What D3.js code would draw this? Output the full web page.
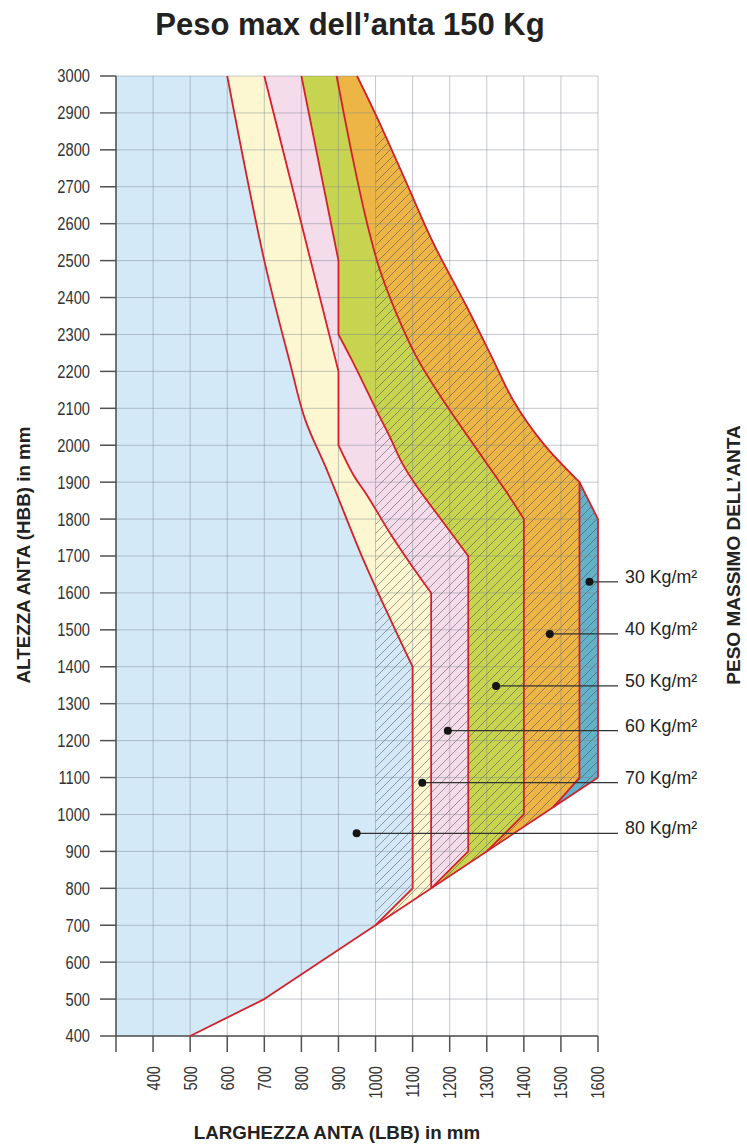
<!DOCTYPE html>
<html><head><meta charset="utf-8">
<script src="https://cdn.jsdelivr.net/npm/d3@7/dist/d3.min.js"></script>
<style>html,body{margin:0;padding:0;background:#fff;} svg{display:block;}</style>
</head><body>
<svg id="chart" width="747" height="1144"></svg>
<script>
// ---------- DATA ----------
const xTicks = [400,500,600,700,800,900,1000,1100,1200,1300,1400,1500,1600];
const xGrid = [300,400,500,600,700,800,900,1000,1100,1200,1300,1400,1500,1600];
const yTicks = [400,500,600,700,800,900,1000,1100,1200,1300,1400,1500,1600,1700,1800,1900,2000,2100,2200,2300,2400,2500,2600,2700,2800,2900,3000];

// boundary lines [width mm, height mm]; "Curve" parts are smooth, the rest straight
const lineACurve = [[600,3000],[700,2500],[770,2220],[810,2070],[870,1930],[967,1690],[1030,1550],[1100,1400]];
const lineATail  = [[1100,1400],[1100,800],[1000,700]];
const lineBHead  = [[700,3000],[900,2200],[900,2000]];
const lineBCurve = [[900,2000],[940,1920],[980,1860],[1040,1760],[1100,1670],[1150,1600]];
const lineBTail  = [[1150,1600],[1150,800]];
const lineCHead  = [[800,3000],[900,2500],[900,2300]];
const lineCCurve = [[900,2300],[936,2231],[1000,2100],[1040,2020],[1070,1955],[1110,1890],[1180,1795],[1250,1700]];
const lineCTail  = [[1250,1700],[1250,900],[1150,800]];
const lineDCurve = [[895,3000],[940,2770],[975,2610],[1010,2480],[1055,2360],[1110,2240],[1180,2125],[1290,1965],[1350,1878],[1400,1800]];
const lineDTail  = [[1400,1800],[1400,1000],[1300,900]];
const lineECurve = [[950,3000],[1003,2890],[1084,2709],[1156,2547],[1246,2375],[1313,2240],[1371,2122],[1452,2005],[1550,1900]];
const lineETail  = [[1550,1900],[1550,1100],[1480,1020]];
const lineF      = [[1550,1900],[1600,1800],[1600,1100]];
const baseLine   = [[500,400],[700,500],[1600,1100]];
const blueLeft   = [[300,400],[300,3000],[600,3000]];
const blueBottom = [[1000,700],[700,500],[500,400],[300,400]];
const tealBottom = [[1600,1100],[1480,1020],[1550,1100],[1550,1900]];
const hatchFrom = 1000;

const weightLabels = ["30 Kg/m²","40 Kg/m²","50 Kg/m²","60 Kg/m²","70 Kg/m²","80 Kg/m²"];
const dotX = [1577,1470,1325,1195,1126,949];
const dotY = [1630,1489,1348,1227,1086,949];

const titleText = "Peso max dell’anta 150 Kg";
const yTitle = "ALTEZZA ANTA (HBB) in mm";
const xTitle = "LARGHEZZA ANTA (LBB) in mm";
const rTitle = "PESO MASSIMO DELL’ANTA";

// ---------- SETUP ----------
const svg = d3.select("#chart");
const x = d3.scaleLinear().domain([300,1600]).range([116,598]);
const y = d3.scaleLinear().domain([400,3000]).range([1036,76]);
const lin = d3.line().x(d=>x(d[0])).y(d=>y(d[1]));
const cur = d3.line().x(d=>x(d[0])).y(d=>y(d[1])).curve(d3.curveCatmullRom.alpha(0.5));

const P = (pts,c)=>({pts,c});
const A = [P(lineACurve,true),P(lineATail,false)];
const B = [P(lineBHead,false),P(lineBCurve,true),P(lineBTail,false)];
const C = [P(lineCHead,false),P(lineCCurve,true),P(lineCTail,false)];
const D = [P(lineDCurve,true),P(lineDTail,false)];
const E = [P(lineECurve,true),P(lineETail,false)];
const revP = ps => ps.slice().reverse().map(p=>P(p.pts.slice().reverse(),p.c));
function build(pieces){
  return pieces.map((p,i)=>{const s=(p.c?cur:lin)(p.pts); return i===0?s:"L"+s.slice(1);}).join("");
}

// font detection for narrow font
function hasFont(name){
  const t = svg.append("text").attr("font-size",40).text("0000 mmKg");
  t.attr("font-family","monospace"); const w0 = t.node().getComputedTextLength();
  t.attr("font-family",`'${name}', monospace`); const w1 = t.node().getComputedTextLength();
  t.remove(); return Math.abs(w0-w1)>0.5;
}
const narrowOK = hasFont("Liberation Sans Narrow");
const NARROW = narrowOK ? "'Liberation Sans Narrow', 'Arial Narrow', sans-serif" : "'Liberation Sans', Arial, sans-serif";
const nScale = narrowOK ? 1 : 0.84;
const SANS = "'Liberation Sans', Arial, sans-serif";

const defs = svg.append("defs");
const pat = defs.append("pattern").attr("id","hatch").attr("patternUnits","userSpaceOnUse")
  .attr("width",9).attr("height",9);
pat.append("path").attr("d","M0,9 L9,0 M-2,2 L2,-2 M7,11 L11,7")
  .attr("stroke","#4a4a4a").attr("stroke-width",0.8).attr("stroke-opacity",0.65);
defs.append("clipPath").attr("id","hclip").append("rect")
  .attr("x",x(hatchFrom)).attr("y",y(3000)).attr("width",x(1600)-x(hatchFrom)+2).attr("height",y(400)-y(3000));

const regions = [
  {d: build([P(blueLeft,false)].concat(A,[P(blueBottom,false)]))+"Z", color:"#d3e9f7"},
  {d: build(A.concat(revP(B)))+"Z", color:"#fcf7d0"},
  {d: build(B.concat(revP(C)))+"Z", color:"#f4dcea"},
  {d: build(C.concat(revP(D)))+"Z", color:"#c7d450"},
  {d: build(D.concat(revP(E)))+"Z", color:"#edb545"},
  {d: build([P(lineF,false),P(tealBottom,false)])+"Z", color:"#62b3c9"}
];

// fills
svg.append("g").selectAll("path").data(regions).join("path")
  .attr("d",d=>d.d).attr("fill",d=>d.color).attr("stroke","none");
// hatch
svg.append("g").attr("clip-path","url(#hclip)").selectAll("path").data(regions).join("path")
  .attr("d",d=>d.d).attr("fill","url(#hatch)");

// grid
const grid = svg.append("g").attr("stroke","#7d858d").attr("stroke-opacity",0.45).attr("stroke-width",1);
grid.selectAll(".v").data(xGrid).join("line").attr("x1",d=>x(d)).attr("x2",d=>x(d)).attr("y1",y(3000)).attr("y2",y(400));
grid.selectAll(".h").data(yTicks).join("line").attr("y1",d=>y(d)).attr("y2",d=>y(d)).attr("x1",x(300)).attr("x2",x(1600));

// axes
const ax = svg.append("g").attr("stroke","#505050").attr("stroke-width",1.5);
ax.append("line").attr("x1",x(300)).attr("x2",x(300)).attr("y1",y(3000)).attr("y2",y(400));
ax.append("line").attr("x1",x(300)).attr("x2",x(1600)).attr("y1",y(400)).attr("y2",y(400));
ax.selectAll(".yt").data(yTicks).join("line").attr("x1",x(300)-16).attr("x2",x(300)).attr("y1",d=>y(d)).attr("y2",d=>y(d));
ax.selectAll(".xt").data(xGrid).join("line").attr("x1",d=>x(d)).attr("x2",d=>x(d)).attr("y1",y(400)).attr("y2",y(400)+16);

// red boundary lines
const red = svg.append("g").attr("fill","none").attr("stroke","#d5202b").attr("stroke-width",1.8).attr("stroke-linejoin","round");
[A,B,C,D,E].forEach(l=>red.append("path").attr("d",build(l)));
red.append("path").attr("d",lin(lineF));
red.append("path").attr("d",lin(baseLine));

// text helper
function txt(str, px, py, o){
  const rot = o.rotate ? ` rotate(${o.rotate})` : "";
  const sc = o.narrow ? ` scale(${nScale},1)` : "";
  return svg.append("text").attr("transform",`translate(${px},${py})${rot}${sc}`)
    .attr("font-family", o.narrow ? NARROW : SANS).attr("font-size",o.size)
    .attr("font-weight",o.weight||"normal").attr("text-anchor",o.anchor||"start")
    .attr("dominant-baseline",o.baseline||"auto").attr("fill",o.fill||"#222").text(str);
}

// tick labels
yTicks.forEach(v=>txt(String(v), 90, y(v), {size:17.5, narrow:true, anchor:"end", baseline:"central", fill:"#333"}));
xTicks.forEach(v=>txt(String(v), x(v), y(400)+30, {size:17.5, narrow:true, anchor:"end", baseline:"central", rotate:-90, fill:"#333"}));

// titles
txt(titleText, 350, 35, {size:31, weight:"bold", anchor:"middle"});
txt(yTitle, 23, 555, {size:18.8, weight:"bold", anchor:"middle", baseline:"central", rotate:-90});
txt(xTitle, 337, 1132, {size:18.8, weight:"bold", anchor:"middle", baseline:"central"});
txt(rTitle, 733, 555, {size:19, weight:"bold", anchor:"middle", baseline:"central", rotate:-90});

// legend dots and leaders
const lg = svg.append("g");
weightLabels.forEach((lab,i)=>{
  const px = x(dotX[i]), py = y(dotY[i]);
  lg.append("line").attr("x1",px).attr("x2",618).attr("y1",py).attr("y2",py).attr("stroke","#333").attr("stroke-width",1.2);
  lg.append("circle").attr("cx",px).attr("cy",py).attr("r",4).attr("fill","#151515");
  txt(lab, 625, py-5, {size:17.8, anchor:"start", baseline:"central", fill:"#222"});
});
</script>
</body></html>
